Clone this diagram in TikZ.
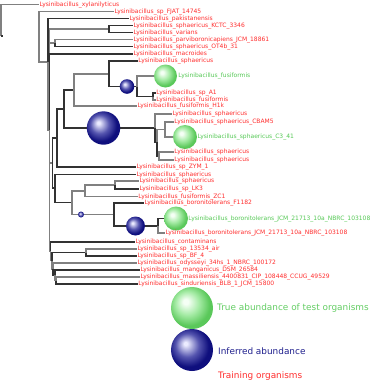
\documentclass[tikz,border=0pt]{standalone}
\usepackage{fontspec}
\setmainfont{DejaVu Sans}
\definecolor{labred}{RGB}{255,45,45}
\definecolor{labgreen}{RGB}{85,200,85}
\definecolor{leggreen}{RGB}{100,205,100}
\definecolor{legblue}{RGB}{30,30,140}
\definecolor{brgray}{RGB}{128,128,128}
\definecolor{brdark}{RGB}{50,50,50}
\definecolor{ghi}{RGB}{245,255,245}
\definecolor{gmid}{RGB}{165,235,165}
\definecolor{gedge}{RGB}{90,200,90}
\definecolor{bhi}{RGB}{235,235,255}
\definecolor{bmid}{RGB}{85,85,175}
\definecolor{bedge}{RGB}{15,15,125}
\pgfdeclareradialshading{gballshade}{\pgfpoint{-8bp}{8bp}}{color(0bp)=(ghi); color(3bp)=(ghi); color(14bp)=(gmid); color(25bp)=(gedge); color(50bp)=(gedge)}
\pgfdeclareradialshading{bballshade}{\pgfpoint{-8bp}{8bp}}{color(0bp)=(bhi); color(2bp)=(bhi); color(14bp)=(bmid); color(24bp)=(bedge); color(50bp)=(bedge)}
\newfontfamily\labfam{DejaVu Sans}
\tikzset{
  br/.style={draw=brgray, line width=1.1pt},
  brd/.style={draw=brdark, line width=1.1pt},
  lab/.style={anchor=west, inner sep=0.3pt, text=labred, font=\labfam\fontsize{6}{7}\selectfont},
  glab/.style={lab, text=labgreen},
  gball/.style={circle, inner sep=0pt, shade, shading=gballshade},
  bball/.style={circle, inner sep=0pt, shade, shading=bballshade},
  leg/.style={anchor=west, inner sep=0pt, font=\labfam\fontsize{8.9}{10}\selectfont}
}
\begin{document}
\begin{tikzpicture}[x=1pt,y=-1pt]
\useasboundingbox (0,0) rectangle (372,384);
% internal nodes
\coordinate (R) at (1,36);
\coordinate (Rs) at (3,36);
\coordinate (A) at (39,36.5);
\coordinate (B) at (48,62);
\coordinate (C) at (49.5,130);
\coordinate (K) at (109,29);
\coordinate (P) at (55,43);
\coordinate (N53) at (52.5,163);
\coordinate (N57) at (57,138);
\coordinate (N64) at (64,109);
\coordinate (N74) at (74,90);
\coordinate (N109) at (109,74);
\coordinate (N137) at (137,86.5);
\coordinate (N153) at (153,96.5);
\coordinate (Cp) at (155,128);
\coordinate (D) at (157,142);
\coordinate (E) at (165,129.5);
\coordinate (F) at (159,156);
\coordinate (N55) at (55,188);
\coordinate (N72) at (72,202.5);
\coordinate (N85) at (85,191);
\coordinate (N115) at (115,185);
\coordinate (N114) at (114,214.5);
\coordinate (N158) at (158,226);
\coordinate (Lc) at (50.5,251);
\coordinate (La) at (52,260.5);
\coordinate (N86) at (86,252.5);
\coordinate (Lo) at (53,269);
\coordinate (Lm) at (55,275);
\coordinate (Lms) at (56,280.5);
% leaves
\node[lab] (l1) at (39,4.5) {Lysinibacillus\_xylanilyticus};
\node[lab] (l2) at (114,11.5) {Lysinibacillus\_sp\_FJAT\_14745};
\node[lab] (l3) at (129,18.5) {Lysinibacillus\_pakistanensis};
\node[lab] (l4) at (133,25.5) {Lysinibacillus\_sphaericus\_KCTC\_3346};
\node[lab] (l5) at (133,32.5) {Lysinibacillus\_varians};
\node[lab] (l6) at (133,39.5) {Lysinibacillus\_parviboronicapiens\_JCM\_18861};
\node[lab] (l7) at (133,46.5) {Lysinibacillus\_sphaericus\_OT4b\_31};
\node[lab] (l8) at (133,54) {Lysinibacillus\_macroides};
\node[lab] (l9) at (138,61) {Lysinibacillus\_sphaericus};
\node[gball, minimum size=23pt] (g1) at (165.5,76) {};
\node[glab] (l10) at (178,76) {Lysinibacillus\_fusiformis};
\node[lab] (l11) at (156,93) {Lysinibacillus\_sp\_A1};
\node[lab] (l12) at (156,100) {Lysinibacillus\_fusiformis};
\node[lab] (l13) at (137,106) {Lysinibacillus\_fusiformis\_H1k};
\node[lab] (l14) at (172,114) {Lysinibacillus\_sphaericus};
\node[lab] (l15) at (174,122) {Lysinibacillus\_sphaericus\_CBAM5};
\node[gball, minimum size=24pt] (g2) at (185,137) {};
\node[glab] (l16) at (197,137) {Lysinibacillus\_sphaericus\_C3\_41};
\node[lab] (l17) at (174,152) {Lysinibacillus\_sphaericus};
\node[lab] (l18) at (174,160) {Lysinibacillus\_sphaericus};
\node[lab] (l19) at (136,167) {Lysinibacillus\_sp\_ZYM\_1};
\node[lab] (l20) at (136,174.5) {Lysinibacillus\_sphaericus};
\node[lab] (l21) at (139,181) {Lysinibacillus\_sphaericus};
\node[lab] (l22) at (139,189) {Lysinibacillus\_sp\_LK3};
\node[lab] (l23) at (138,196.5) {Lysinibacillus\_fusiformis\_ZC1};
\node[lab] (l24) at (144,203) {Lysinibacillus\_boronitolerans\_F1182};
\node[gball, minimum size=24pt] (g3) at (176,218.5) {};
\node[glab] (l25) at (188,218.5) {Lysinibacillus\_boronitolerans\_JCM\_21713\_10a\_NBRC\_103108};
\node[lab] (l26) at (165,233) {Lysinibacillus\_boronitolerans\_JCM\_21713\_10a\_NBRC\_103108};
\node[lab] (l27) at (135,242) {Lysinibacillus\_contaminans};
\node[lab] (l28) at (137,249) {Lysinibacillus\_sp\_13534\_air};
\node[lab] (l29) at (137,256) {Lysinibacillus\_sp\_BF\_4};
\node[lab] (l30) at (137,263) {Lysinibacillus\_odysseyi\_34hs\_1\_NBRC\_100172};
\node[lab] (l31) at (140,270) {Lysinibacillus\_manganicus\_DSM\_26584};
\node[lab] (l32) at (140,277) {Lysinibacillus\_massiliensis\_4400831\_CIP\_108448\_CCUG\_49529};
\node[lab] (l33) at (138,284) {Lysinibacillus\_sinduriensis\_BLB\_1\_JCM\_15800};
% positions of the blue balls on their branches
\coordinate (b1c) at (127,86.5);
\coordinate (b2c) at (103.5,128);
\coordinate (b3c) at (81,214.5);
\coordinate (b4c) at (135.5,226);
% edges
\draw[br] (R) |- (l1.west);
\draw[brd] (R) -- (Rs);
\draw[br] (A) |- (l2.west);
\draw[br] (A) |- (B);
\draw[brd] (B) |- (l3.west);
\draw[br] (B) |- (C);
\draw[br] (C) |- (K);
\draw[brd] (K) |- (l4.west);
\draw[brd] (K) |- (l5.west);
\draw[br] (C) |- (P);
\draw[br] (P) |- (l6.west);
\draw[brd] (P) |- (l7.west);
\draw[brd] (C) |- (l8.west);
\draw[br] (C) |- (N53);
\draw[brd] (N53) |- (N57);
\draw[brd] (N57) |- (N64);
\draw[brd] (N57) |- (l19.west);
\draw[brd] (N64) |- (N74);
\draw[br] (N74) |- (N109);
\draw[br] (N74) |- (l13.west);
\draw[brd] (N109) |- (l9.west);
\draw[brd] (N109) |- (b1c) -- (N137);
\draw[br] (N137) |- (g1);
\draw[brd] (N137) |- (N153);
\draw[brd] (N153) |- (l11.west);
\draw[br] (N153) |- (l12.west);
\draw[brd] (N64) |- (b2c) -- (Cp);
\draw[br] (Cp) |- (l14.west);
\draw[brd] (Cp) |- (D);
\draw[br] (D) |- (E);
\draw[br] (E) |- (l15.west);
\draw[br] (E) |- (g2);
\draw[brd] (D) |- (F);
\draw[br] (F) |- (l17.west);
\draw[br] (F) |- (l18.west);
\draw[brd] (N53) |- (N55);
\draw[brd] (N55) |- (l20.west);
\draw[brd] (N55) |- (N72);
\draw[br] (N72) |- (N85);
\draw[br] (N85) |- (N115);
\draw[br] (N115) |- (l21.west);
\draw[brd] (N115) |- (l22.west);
\draw[br] (N85) |- (l23.west);
\draw[br] (N72) |- (b3c) -- (N114);
\draw[brd] (N114) |- (l24.west);
\draw[brd] (N114) |- (b4c) -- (N158);
\draw[brd] (N158) |- (g3);
\draw[br] (N158) |- (l26.west);
\draw[br] (C) |- (Lc);
\draw[brd] (Lc) |- (l27.west);
\draw[br] (Lc) |- (La);
\draw[brd] (La) |- (N86);
\draw[br] (N86) |- (l28.west);
\draw[brd] (N86) |- (l29.west);
\draw[br] (La) |- (Lo);
\draw[br] (Lo) |- (l30.west);
\draw[brd] (Lo) |- (Lm);
\draw[brd] (Lm) |- (l31.west);
\draw[br] (Lm) |- (Lms);
\draw[br] (Lms) |- (l32.west);
\draw[brd] (Lms) |- (l33.west);
% blue balls
\node[bball, minimum size=14.6pt] (b1) at (b1c) {};
\node[bball, minimum size=33.4pt] (b2) at (b2c) {};
\node[bball, minimum size=6pt] (b3) at (b3c) {};
\node[bball, minimum size=19pt] (b4) at (b4c) {};
% legend
\node[gball, minimum size=42pt] (lg1) at (192,308) {};
\node[leg, text=leggreen] (lt1) at (217,308) {True abundance of test organisms};
\node[bball, minimum size=42pt] (lg2) at (192,350) {};
\node[leg, text=legblue] (lt2) at (218,351) {Inferred abundance};
\node[leg, text=labred] (lt3) at (218,376) {Training organisms};
\end{tikzpicture}
\end{document}
